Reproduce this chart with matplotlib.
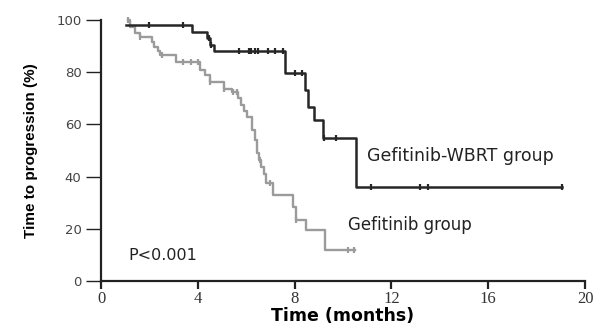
import numpy as np
import matplotlib
matplotlib.use("Agg")
import matplotlib.pyplot as plt

# ---- data ----
wbrt_t = [1.05, 3.75, 4.36, 4.50, 4.65, 7.60, 8.41, 8.55, 8.82, 9.17, 10.55, 19.05]
wbrt_s = [98.0, 95.4, 93.0, 90.5, 88.0, 79.7, 73.2, 66.8, 61.7, 54.7, 36.2, 36.2]
wbrt_cens = [2.0, 3.4, 4.45, 4.55, 5.7, 6.1, 6.2, 6.35, 6.5, 6.9, 7.2, 7.5,
             8.0, 8.3, 9.2, 9.7, 11.15, 13.2, 13.5, 19.05]

gef_t = [1.10, 1.20, 1.40, 1.60, 2.10, 2.20, 2.35, 2.45, 3.10, 4.08, 4.29, 4.50,
         5.10, 5.40, 5.65, 5.80, 5.90, 6.02, 6.23, 6.35, 6.45, 6.52, 6.62, 6.72,
         6.82, 7.10, 7.93, 8.07, 8.48, 9.24, 10.50]
gef_s = [100.0, 97.5, 95.0, 93.5, 91.7, 89.8, 88.0, 86.6, 84.0, 81.0, 79.0, 76.4,
         73.5, 72.5, 70.3, 67.4, 65.0, 63.0, 58.0, 54.0, 49.0, 46.4, 43.8, 41.0,
         37.4, 33.0, 28.5, 23.4, 19.5, 11.9, 11.9]
gef_cens = [1.1, 1.6, 2.5, 3.4, 3.7, 4.0, 4.5, 5.1, 5.45, 5.6, 6.55, 6.97, 8.07,
            10.2, 10.45]

x_ticks = [0, 4, 8, 12, 16, 20]
y_ticks = [0, 20, 40, 60, 80, 100]


def level_at(times, surv, t):
    idx = np.searchsorted(np.asarray(times), t, side="right") - 1
    return np.asarray(surv)[np.clip(idx, 0, len(surv) - 1)]


fig = plt.figure(figsize=(5.93, 3.27), dpi=100)
ax = fig.add_axes([101 / 593, 1 - 281 / 327, 484 / 593, 261 / 327])

blk = "#262626"
gry = "#9b9b9b"

ax.step(wbrt_t, wbrt_s, where="post", color=blk, lw=1.8, clip_on=False, zorder=3)
ax.plot(wbrt_cens, level_at(wbrt_t, wbrt_s, wbrt_cens), ls="none", marker="|",
        ms=5, mew=1.6, color=blk, clip_on=False, zorder=4)

ax.step(gef_t, gef_s, where="post", color=gry, lw=1.7, clip_on=False, zorder=2)
ax.plot(gef_cens, level_at(gef_t, gef_s, gef_cens), ls="none", marker="|",
        ms=5, mew=1.6, color=gry, clip_on=False, zorder=2)

ax.set_xlim(0, 20)
ax.set_ylim(0, 100)
ax.set_xticks(x_ticks)
ax.set_yticks(y_ticks)
ax.set_xticklabels([str(v) for v in x_ticks], family="Liberation Serif",
                   fontsize=12, color="#333333")
ax.set_yticklabels([str(v) for v in y_ticks], family="DejaVu Sans",
                   fontsize=9.5, color="#444444")

for s in ["top", "right"]:
    ax.spines[s].set_visible(False)
for s in ["left", "bottom"]:
    ax.spines[s].set_linewidth(1.6)
    ax.spines[s].set_color("#222222")

ax.tick_params(axis="y", direction="out", length=11, width=1.0, color="#222222", pad=3)
ax.tick_params(axis="x", direction="out", length=5.5, width=1.6, color="#222222", pad=2)

ax.set_xlabel("Time (months)", family="DejaVu Sans", fontweight="bold",
              fontsize=12.5, labelpad=0)
ax.set_ylabel("Time to progression (%)", family="Liberation Sans",
              fontweight="bold", fontsize=11)
ax.yaxis.set_label_coords(-0.13, 0.5)

ax.text(11.0, 47.9, "Gefitinib-WBRT group", family="DejaVu Sans", fontsize=12.5,
        color="#222222", va="center", ha="left")
ax.text(10.19, 21.5, "Gefitinib group", family="DejaVu Sans", fontsize=12,
        color="#222222", va="center", ha="left")
ax.text(1.15, 9.6, "P<0.001", family="DejaVu Sans", fontsize=11.5,
        color="#222222", va="center", ha="left")

fig.savefig("out.png", dpi=100)
